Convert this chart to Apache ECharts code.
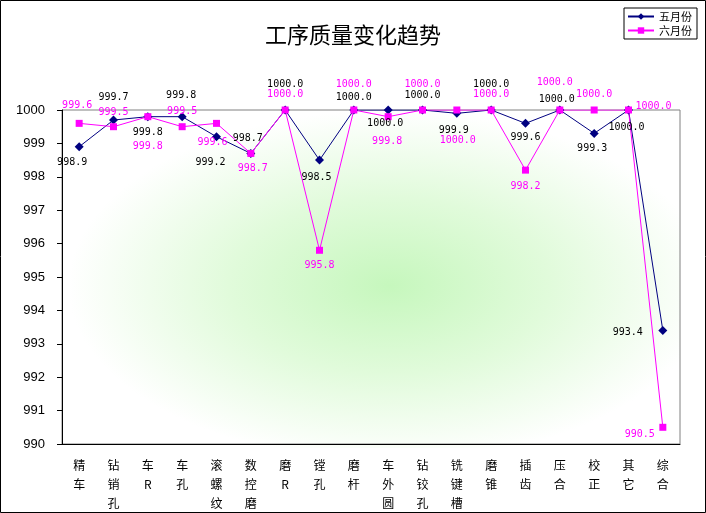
<!DOCTYPE html>
<html>
<head>
<meta charset="utf-8">
<script src="https://cdn.jsdelivr.net/npm/echarts@6/dist/echarts.min.js"></script>
<style>
  html, body { margin: 0; padding: 0; background: #fff; }
  #main { width: 706px; height: 513px; }
</style>
</head>
<body>
<div id="main"></div>
<script>
// 工序名称
const categories = ['精车', '钻销孔', '车R', '车孔', '滚螺纹', '数控磨', '磨R', '镗孔', '磨杆',
  '车外圆', '钻铰孔', '铣键槽', '磨锥', '插齿', '压合', '校正', '其它', '综合'];
// 五月份
const mayValues = [998.9, 999.7, 999.8, 999.8, 999.2, 998.7, 1000.0, 998.5, 1000.0,
  1000.0, 1000.0, 999.9, 1000.0, 999.6, 1000.0, 999.3, 1000.0, 993.4];
// 六月份
const juneValues = [999.6, 999.5, 999.8, 999.5, 999.6, 998.7, 1000.0, 995.8, 1000.0,
  999.8, 1000.0, 1000.0, 1000.0, 998.2, 1000.0, 1000.0, 1000.0, 990.5];
const yTicks = [990, 1000, 1];

// 数据标签的偏移（避免重叠）
const mayLabelOffset = [[-7, 16], [0, -23], [0, 16], [-1, -21], [-6, 26], [-3, -15], [0, -26], [-3, 17], [0, -13],
  [-3, 13], [0, -15], [-3, 17], [0, -26], [0, 14], [-3, -11], [-2, 15], [-2, 17], [-35, 2]];
const juneLabelOffset = [[-2, -18], [0, -14], [0, 30], [0, -15], [-4, 19], [2, 15], [0, -16], [0, 15], [0, -26],
  [-1, 25], [0, -26], [1, 30], [0, -16], [0, 16], [-5, -28], [0, -16], [25, -4], [-23, 7]];

const chart = echarts.init(document.getElementById('main'));

// 绘图区
const gridBox = { left: 62, top: 110, right: 26, bottom: 65 };
const plotW = 706 - gridBox.left - gridBox.right;
const plotH = 513 - gridBox.top - gridBox.bottom;

const labelFont = { fontFamily: 'DejaVu Sans Mono', fontSize: 10 };

const option = {
  backgroundColor: '#fff',
  animation: false,
  title: {
    text: '工序质量变化趋势',
    left: 'center',
    top: 24,
    padding: 0,
    textStyle: { fontFamily: 'Noto Sans CJK SC', fontWeight: 'normal', fontSize: 22, color: '#000' }
  },
  legend: {
    orient: 'vertical',
    right: 9,
    top: 8,
    borderColor: '#000',
    borderWidth: 1,
    padding: [3, 5, 3, 3],
    itemGap: 3,
    itemWidth: 26,
    itemHeight: 8,
    textStyle: { fontFamily: 'Noto Sans CJK SC', fontSize: 11, color: '#000' },
    data: ['五月份', '六月份']
  },
  graphic: [
    {
      // 背景渐变（椭圆形）
      type: 'rect',
      z: -1,
      silent: true,
      x: gridBox.left,
      y: gridBox.top,
      scaleX: plotW / plotH,
      shape: { x: 0, y: 0, width: plotH, height: plotH },
      style: {
        fill: {
          type: 'radial', x: 0.53, y: 0.52, r: 0.52,
          colorStops: [
            { offset: 0, color: '#c6f7bd' },
            { offset: 0.5, color: '#e1fbdb' },
            { offset: 1, color: '#ffffff' }
          ]
        }
      }
    },
    {
      type: 'rect',
      shape: { x: 0.5, y: 0.5, width: 705, height: 512 },
      style: { fill: 'none', stroke: '#000', lineWidth: 1 },
      silent: true
    }
  ],
  grid: {
    left: gridBox.left, right: gridBox.right, top: gridBox.top, bottom: gridBox.bottom,
    show: true,
    borderColor: '#808080',
    borderWidth: 1,
    backgroundColor: 'transparent'
  },
  xAxis: {
    type: 'category',
    data: categories,
    boundaryGap: true,
    axisLine: { lineStyle: { color: '#000' } },
    axisTick: { inside: true, length: 3, lineStyle: { color: '#000' } },
    axisLabel: {
      interval: 0,
      margin: 12,
      color: '#000',
      fontFamily: 'Noto Sans CJK SC',
      fontSize: 12,
      lineHeight: 19,
      formatter: v => v.split('').join('\n')
    }
  },
  yAxis: {
    type: 'value',
    min: yTicks[0],
    max: yTicks[1],
    interval: yTicks[2],
    axisLine: { show: true, lineStyle: { color: '#000' } },
    axisTick: { show: true, length: 5, lineStyle: { color: '#000' } },
    splitLine: { show: false },
    axisLabel: {
      color: '#000', fontFamily: 'Liberation Sans', fontSize: 13, margin: 17,
      formatter: v => String(v)
    }
  },
  series: [
    {
      name: '五月份',
      type: 'line',
      symbol: 'diamond',
      symbolSize: 9,
      itemStyle: { color: '#000080' },
      lineStyle: { color: '#000080', width: 1 },
      label: {
        show: true, position: 'inside', color: '#000', ...labelFont,
        formatter: p => p.value.toFixed(1)
      },
      data: mayValues.map((v, i) => ({ value: v, label: { offset: mayLabelOffset[i] } }))
    },
    {
      name: '六月份',
      type: 'line',
      symbol: 'rect',
      symbolSize: 7,
      itemStyle: { color: '#ff00ff' },
      lineStyle: { color: '#ff00ff', width: 1 },
      label: {
        show: true, position: 'inside', color: '#ff00ff', ...labelFont,
        formatter: p => p.value.toFixed(1)
      },
      data: juneValues.map((v, i) => ({ value: v, label: { offset: juneLabelOffset[i] } }))
    }
  ]
};

option && chart.setOption(option);
</script>
</body>
</html>
